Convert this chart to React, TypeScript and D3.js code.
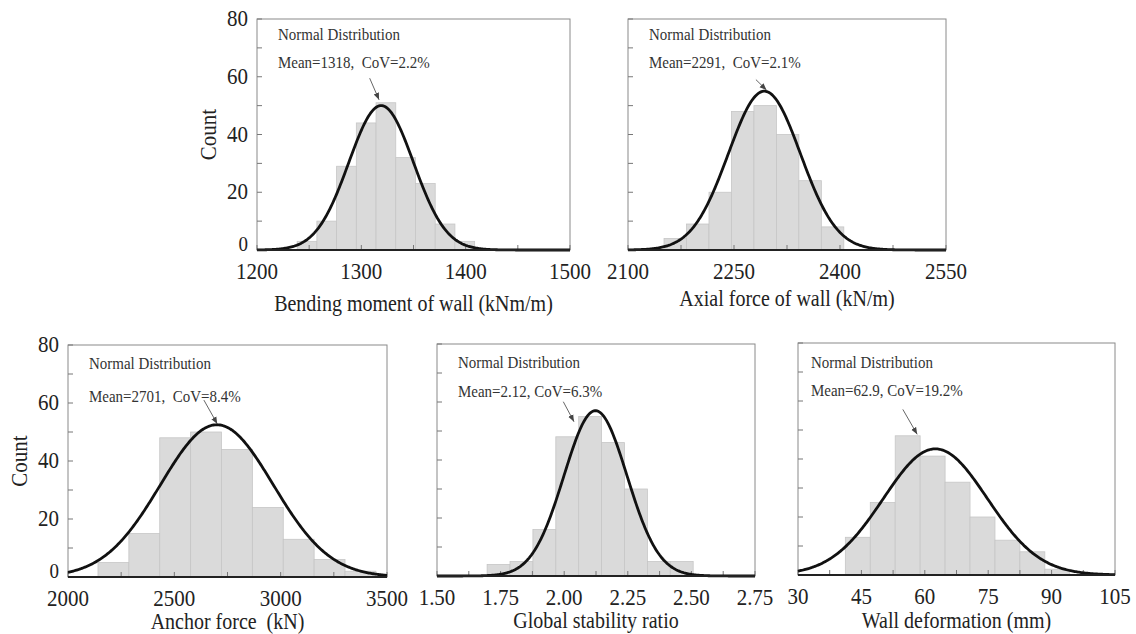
import * as d3 from 'd3';

const FONT = "'Liberation Serif', 'Times New Roman', serif";

const yTicks = [0, 20, 40, 60, 80];

// Bending moment of wall
const bendingTicks = [1200, 1300, 1400, 1500];
const bendingBinStart = 1238.5;
const bendingBinWidth = 18.9;
const bendingCounts = [3, 10, 29, 44, 51, 32, 23, 9, 3];
const bendingFit = { mean: 1319, sd: 31, peak: 50 };
const bendingArrow = [[1308, 59.5], [1317, 52]];

// Axial force of wall
const axialTicks = [2100, 2250, 2400, 2550];
const axialBinStart = 2151;
const axialBinWidth = 31.8;
const axialCounts = [4, 9, 20, 48, 50, 40, 24, 8];
const axialFit = { mean: 2293, sd: 51, peak: 55 };
const axialArrow = [[2281, 59], [2296, 55.4]];

// Anchor force
const anchorTicks = [2000, 2500, 3000, 3500];
const anchorBinStart = 2141;
const anchorBinWidth = 145.2;
const anchorCounts = [5, 15, 48, 50, 44, 24, 13, 6, 2];
const anchorFit = { mean: 2700, sd: 265, peak: 52.5 };
const anchorArrow = [[2639, 61], [2702, 52.8]];

// Global stability ratio
const stabilityTicks = [1.5, 1.75, 2.0, 2.25, 2.5, 2.75];
const stabilityBinStart = 1.697;
const stabilityBinWidth = 0.09;
const stabilityCounts = [4, 5, 16, 48, 55, 46, 30, 5, 5];
const stabilityFit = { mean: 2.123, sd: 0.124, peak: 57 };
const stabilityArrow = [[1.9965, 60.1], [2.0385, 53.2]];

// Wall deformation
const deformTicks = [30, 45, 60, 75, 90, 105];
const deformBinStart = 41.2;
const deformBinWidth = 5.9;
const deformCounts = [13, 25, 48, 41, 32, 20, 12, 8, 2];
const deformFit = { mean: 62.5, sd: 12.3, peak: 43.5 };
const deformArrow = [[54.8, 57.1], [58.2, 48.5]];

const panels = [
  {
    ticks: bendingTicks, fmt: (v: number) => String(v), binStart: bendingBinStart, binWidth: bendingBinWidth,
    counts: bendingCounts, fit: bendingFit, arrow: bendingArrow,
    note1: 'Normal Distribution', note2: 'Mean=1318,  CoV=2.2%', title: 'Bending moment of wall (kNm/m)',
    box: { x0: 257, x1: 570, y0: 19, y1: 250 }, yLabels: true, titleY: 311, noteDy: [21, 49],
  },
  {
    ticks: axialTicks, fmt: (v: number) => String(v), binStart: axialBinStart, binWidth: axialBinWidth,
    counts: axialCounts, fit: axialFit, arrow: axialArrow,
    note1: 'Normal Distribution', note2: 'Mean=2291,  CoV=2.1%', title: 'Axial force of wall (kN/m)',
    box: { x0: 628, x1: 946, y0: 19, y1: 250 }, yLabels: false, titleY: 306, noteDy: [21, 49],
  },
  {
    ticks: anchorTicks, fmt: (v: number) => String(v), binStart: anchorBinStart, binWidth: anchorBinWidth,
    counts: anchorCounts, fit: anchorFit, arrow: anchorArrow,
    note1: 'Normal Distribution', note2: 'Mean=2701,  CoV=8.4%', title: 'Anchor force  (kN)',
    box: { x0: 68, x1: 387, y0: 345, y1: 577 }, yLabels: true, titleY: 629, noteDy: [24, 57],
  },
  {
    ticks: stabilityTicks, fmt: d3.format('.2f'), binStart: stabilityBinStart, binWidth: stabilityBinWidth,
    counts: stabilityCounts, fit: stabilityFit, arrow: stabilityArrow,
    note1: 'Normal Distribution', note2: 'Mean=2.12, CoV=6.3%', title: 'Global stability ratio',
    box: { x0: 437, x1: 755, y0: 344, y1: 576 }, yLabels: false, titleY: 628, noteDy: [24, 53],
  },
  {
    ticks: deformTicks, fmt: (v: number) => String(v), binStart: deformBinStart, binWidth: deformBinWidth,
    counts: deformCounts, fit: deformFit, arrow: deformArrow,
    note1: 'Normal Distribution', note2: 'Mean=62.9, CoV=19.2%', title: 'Wall deformation (mm)',
    box: { x0: 798, x1: 1115, y0: 343, y1: 575 }, yLabels: false, titleY: 628, noteDy: [25, 53], noteDx: 13,
  },
];

// serif text, a little taller than wide like the scanned figure
function Txt({ x, y, size, anchor = 'start', fill = '#222', sy = 1.12, children }: any) {
  return (
    <text transform={`translate(${x},${y}) scale(1,${sy})`} textAnchor={anchor} fontSize={size}
      fill={fill} fontFamily={FONT} style={{ whiteSpace: 'pre' }}>{children}</text>
  );
}

function Panel({ p }: { p: any }) {
  const { x0, x1, y0, y1 } = p.box;
  const dom = [p.ticks[0], p.ticks[p.ticks.length - 1]];
  const x = d3.scaleLinear().domain(dom).range([x0, x1]);
  const y = d3.scaleLinear().domain([0, 80]).range([y1, y0]);
  const step = p.ticks[1] - p.ticks[0];
  const xMinor = d3.range(dom[0], dom[1] + step / 4, step / 2);
  const yMinor = d3.range(0, 81, 10);
  const curveXs = d3.range(0, 301).map((i) => dom[0] + ((dom[1] - dom[0]) * i) / 300);
  const pdf = (v: number) => p.fit.peak * Math.exp(-0.5 * ((v - p.fit.mean) / p.fit.sd) ** 2);
  const line = d3.line<number>().x((v) => x(v)).y((v) => y(pdf(v)));
  const [[ax0, ay0], [ax1, ay1]] = p.arrow;
  const dx = p.noteDx ?? 21;
  return (
    <g>
      <rect x={x0} y={y0} width={x1 - x0} height={y1 - y0} fill="#fff" stroke="#8a8a8a" strokeWidth={1} />
      {p.counts.map((c: number, i: number) => {
        const a = p.binStart + i * p.binWidth;
        return (
          <rect key={i} x={x(a)} y={y(c)} width={x(a + p.binWidth) - x(a)} height={y(0) - y(c)}
            fill="#dadada" stroke="#c6c6c6" strokeWidth={0.8} />
        );
      })}
      {yMinor.map((t) => (
        <line key={'y' + t} x1={x0} x2={x0 + 5} y1={y(t)} y2={y(t)} stroke="#777" strokeWidth={1} />
      ))}
      {xMinor.map((t: number) => (
        <line key={'x' + t} x1={x(t)} x2={x(t)} y1={y1} y2={y1 - 5} stroke="#777" strokeWidth={1} />
      ))}
      <path d={line(curveXs) || ''} fill="none" stroke="#111" strokeWidth={2.8} />
      <line x1={x0} x2={x1} y1={y1} y2={y1} stroke="#222" strokeWidth={2} />
      <line x1={x(ax0)} y1={y(ay0)} x2={x(ax1)} y2={y(ay1)} stroke="#555" strokeWidth={0.9} markerEnd="url(#arr)" />
      <Txt x={x0 + dx} y={y0 + p.noteDy[0]} size={15} fill="#333">{p.note1}</Txt>
      <Txt x={x0 + dx} y={y0 + p.noteDy[1]} size={15} fill="#333">{p.note2}</Txt>
      {p.ticks.map((t: number) => (
        <Txt key={'xl' + t} x={x(t)} y={y1 + 29} size={21} anchor="middle">{p.fmt(t)}</Txt>
      ))}
      {p.yLabels && yTicks.map((t) => (
        <Txt key={'yl' + t} x={x0 - 9} y={y(t) + (t === 0 ? 1 : 7)} size={t === 0 ? 19 : 21} anchor="end">{t}</Txt>
      ))}
      {p.yLabels && (
        <text transform={`translate(${x0 - 49},${(y0 + y1) / 2}) rotate(-90) scale(1,1.12)`} textAnchor="middle" dy="0.35em"
          fontSize={21} fill="#222" fontFamily={FONT}>Count</text>
      )}
      <Txt x={(x0 + x1) / 2} y={p.titleY} size={20} anchor="middle">{p.title}</Txt>
    </g>
  );
}

export default function App() {
  return (
    <div style={{ position: 'absolute', left: 0, top: 0 }}>
      <svg width={1136} height={634} style={{ display: 'block', background: '#fff' }}>
        <defs>
          <marker id="arr" viewBox="0 0 10 10" refX="10" refY="5" markerWidth="7" markerHeight="7" orient="auto" markerUnits="userSpaceOnUse">
            <path d="M0,1 L10,5 L0,9 Z" fill="#444" />
          </marker>
        </defs>
        {panels.map((p, i) => <Panel key={i} p={p} />)}
      </svg>
    </div>
  );
}
